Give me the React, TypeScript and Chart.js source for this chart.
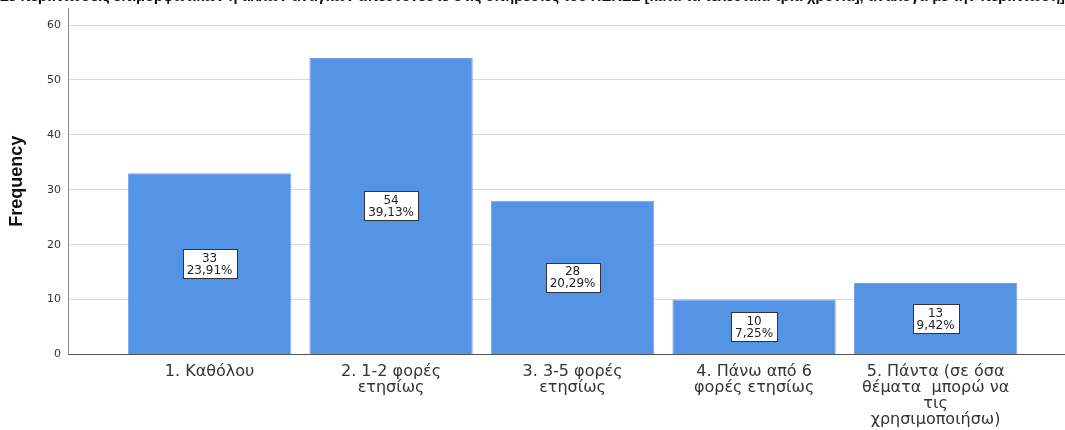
import React, { useEffect, useRef } from "react";
import { Chart, registerables } from "chart.js";

Chart.register(...registerables);

// ---- data ----
const chartTitle =
  "Σε περιπτώσεις επιμορφωτικών ή άλλων αναγκών απευθύνεστε στις υπηρεσίες του ΠΕΚΕΣ [κατά τα τελευταία τρία χρόνια], ανάλογα με την περίπτωση]";
const categoryLabels: string[][] = [
  ["1. Καθόλου"],
  ["2. 1-2 φορές", "ετησίως"],
  ["3. 3-5 φορές", "ετησίως"],
  ["4. Πάνω από 6", "φορές ετησίως"],
  ["5. Πάντα (σε όσα", "θέματα  μπορώ να", "τις", "χρησιμοποιήσω)"],
];
const frequencies: number[] = [33, 54, 28, 10, 13];
const yTickValues: number[] = [0, 10, 20, 30, 40, 50, 60];
const yAxisTitle = "Frequency";

// axis ranges
const Y_MAX = 63.1;
const X_MIN = 0.22;
const X_MAX = 5.713;

const total = frequencies.reduce((a, b) => a + b, 0);
const percentLabels = frequencies.map(
  (v) => (Math.round((v / total) * 10000) / 100).toFixed(2).replace(".", ",") + "%"
);

export default function App() {
  const canvasRef = useRef<HTMLCanvasElement>(null);

  useEffect(() => {
    const canvas = canvasRef.current;
    if (!canvas) return;

    const boxLabels = {
      id: "boxLabels",
      afterDatasetsDraw(chart: any) {
        const ctx = chart.ctx as CanvasRenderingContext2D;
        const meta = chart.getDatasetMeta(0);
        ctx.save();
        ctx.font = '12px "DejaVu Sans"';
        ctx.textAlign = "center";
        ctx.textBaseline = "middle";
        meta.data.forEach((el: any, i: number) => {
          const { x, y, base } = el.getProps(["x", "y", "base"], true);
          const cy = (y + base) / 2;
          const lines = [String(frequencies[i]), percentLabels[i]];
          const tw = Math.max(...lines.map((l) => ctx.measureText(l).width));
          const w = Math.round(tw + 8);
          const lh = 12;
          const h = lh * 2 + 5;
          const left = Math.round(x - w / 2) + 0.5;
          const top = Math.round(cy - h / 2) + 0.5;
          ctx.fillStyle = "#ffffff";
          ctx.fillRect(left, top, w, h);
          ctx.strokeStyle = "#333333";
          ctx.lineWidth = 1;
          ctx.strokeRect(left, top, w, h);
          ctx.fillStyle = "#222222";
          ctx.fillText(lines[0], x, cy - lh / 2 + 1);
          ctx.fillText(lines[1], x, cy + lh / 2 + 1);
        });
        ctx.restore();
      },
    };

    const chart = new Chart(canvas, {
      type: "bar",
      data: {
        datasets: [
          {
            data: frequencies.map((v, i) => ({ x: i + 1, y: v })),
            backgroundColor: "rgb(85,148,228)",
            borderColor: "rgb(110,165,235)",
            borderWidth: 1,
            barPercentage: 0.9,
            categoryPercentage: 1,
          },
        ],
      },
      options: {
        animation: false,
        responsive: true,
        maintainAspectRatio: false,
        layout: { padding: 0 },
        plugins: {
          legend: { display: false },
          tooltip: { enabled: false },
          title: {
            display: true,
            text: chartTitle,
            color: "#111",
            font: { family: "Liberation Sans", weight: "bold", size: 15, lineHeight: 1.2 },
            padding: { top: 0, bottom: 2 },
          },
        },
        scales: {
          x: {
            type: "linear",
            min: X_MIN,
            max: X_MAX,
            offset: false,
            grid: { display: false, drawTicks: false },
            border: { display: true, color: "#555", width: 1 },
            afterBuildTicks: (s: any) => {
              s.ticks = categoryLabels.map((_, i) => ({ value: i + 1 }));
            },
            ticks: {
              callback: (v: any) => categoryLabels[Math.round(Number(v)) - 1] ?? "",
              color: "#333",
              font: { family: "DejaVu Sans", size: 16, lineHeight: 0.98 },
              maxRotation: 0,
              minRotation: 0,
              autoSkip: false,
              padding: 10,
            },
            afterFit: (s: any) => {
              s.height = 75.5;
            },
          },
          y: {
            min: 0,
            max: Y_MAX,
            afterBuildTicks: (s: any) => {
              s.ticks = yTickValues.map((v) => ({ value: v }));
            },
            grid: { color: "#d9d9d9", lineWidth: 1, drawTicks: false },
            border: { display: true, color: "#888", width: 1 },
            ticks: {
              padding: 7,
              color: "#333",
              font: { family: "DejaVu Sans", size: 11 },
            },
            title: {
              display: true,
              text: yAxisTitle,
              color: "#111",
              font: { family: "Liberation Sans", weight: "bold", size: 18, lineHeight: 1.2 },
              padding: { top: 6, bottom: 0 },
            },
            afterFit: (s: any) => {
              s.width = 68;
            },
          },
        },
      },
      plugins: [boxLabels],
    } as any);

    return () => chart.destroy();
  }, []);

  return (
    <div
      style={{
        position: "absolute",
        left: 0,
        top: -12,
        width: 1065,
        height: 442,
        background: "#fff",
      }}
    >
      <canvas ref={canvasRef} />
    </div>
  );
}
